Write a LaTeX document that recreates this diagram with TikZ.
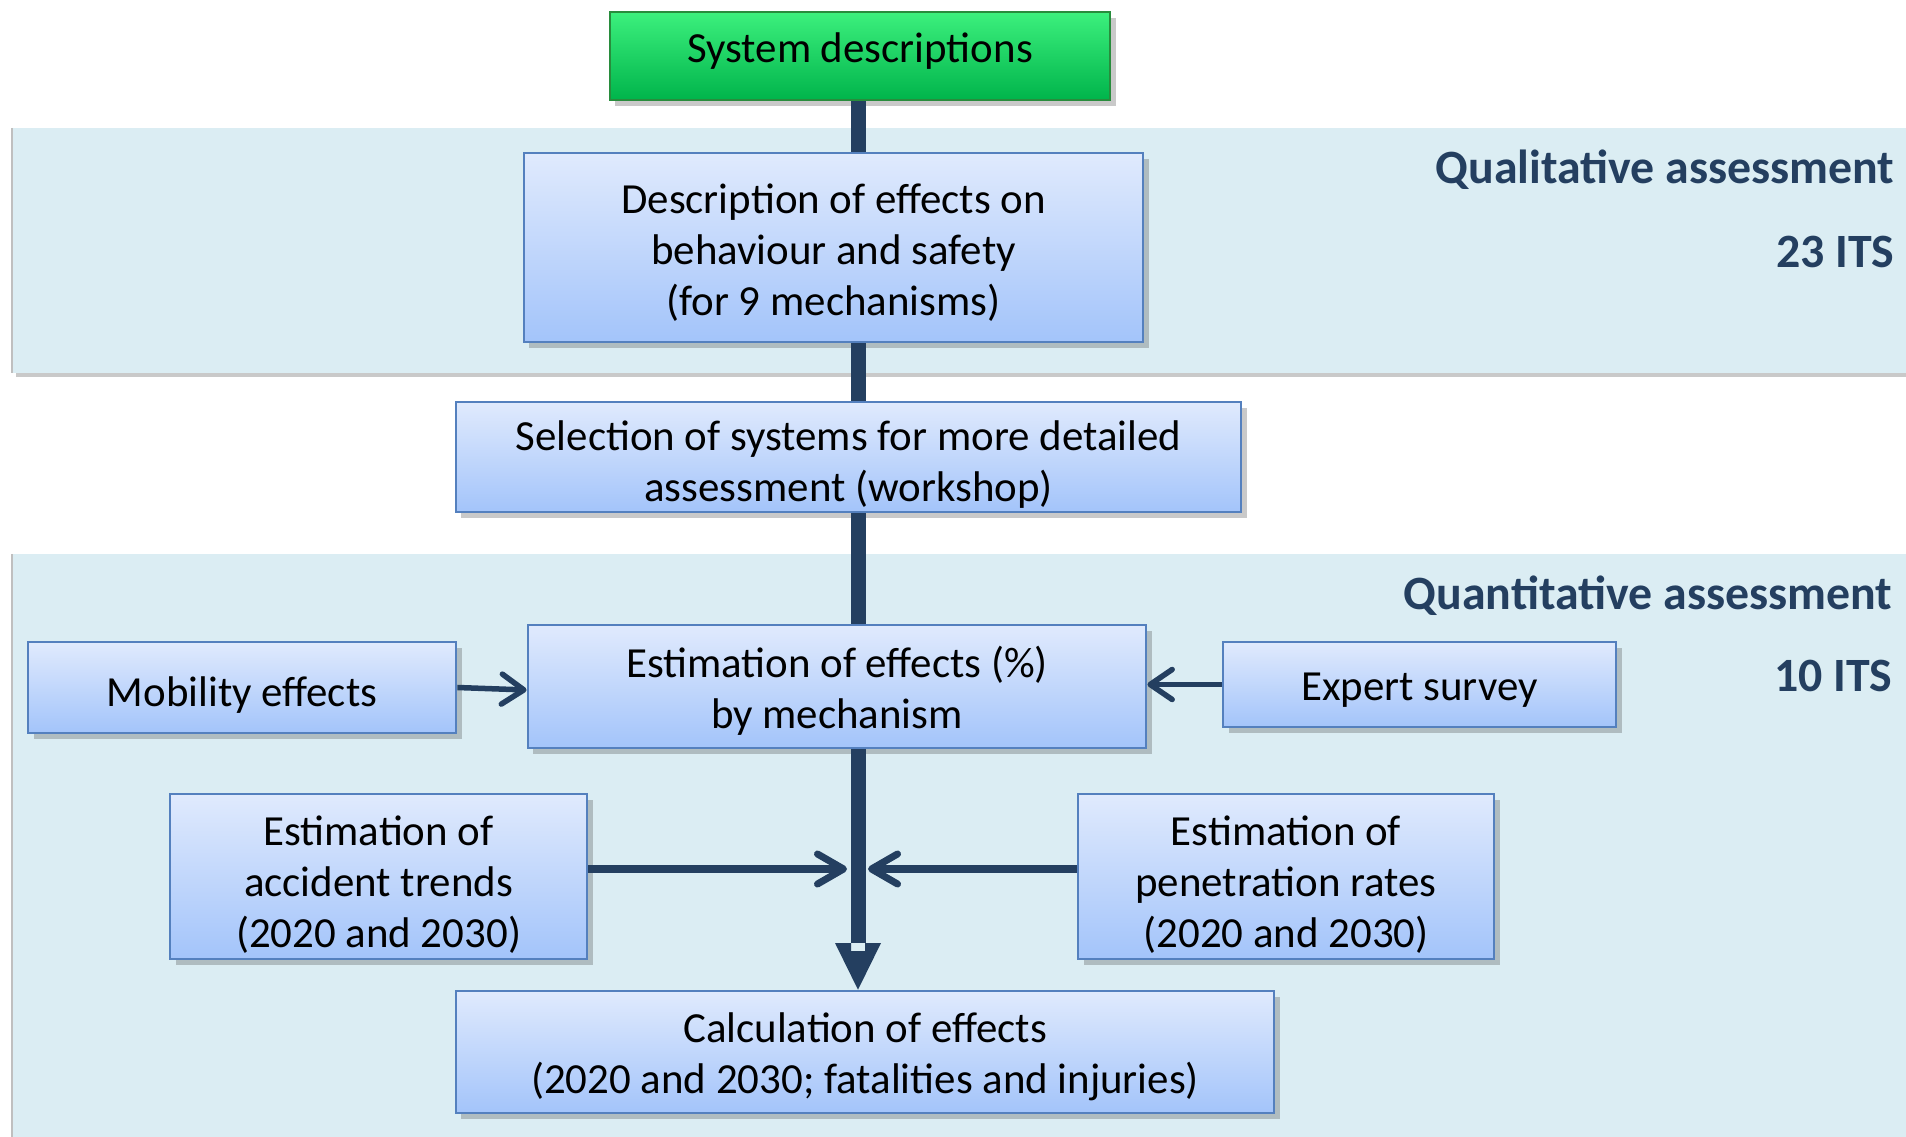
\documentclass[tikz,border=0pt]{standalone}
\usepackage{fontspec}
\setmainfont{Carlito}
\usetikzlibrary{arrows.meta,shadows}
\definecolor{navy}{RGB}{36,63,96}
\definecolor{band}{RGB}{219,237,243}
\definecolor{boxtop}{RGB}{224,234,253}
\definecolor{boxbot}{RGB}{163,196,250}
\definecolor{boxline}{RGB}{84,128,190}
\definecolor{gtop}{RGB}{60,240,125}
\definecolor{gbot}{RGB}{0,180,75}
\definecolor{gline}{RGB}{40,140,60}
\newcommand\lift[1]{\rule{0pt}{#1}}
\tikzset{
  bluebox/.style={draw=boxline, line width=0.7pt, top color=boxtop, bottom color=boxbot,
    inner sep=0pt, align=center, font=\fontsize{12.2}{14.5}\selectfont,
    drop shadow={shadow xshift=1.6pt, shadow yshift=-1.6pt, opacity=0.3, fill=black!70}},
  greenbox/.style={bluebox, draw=gline, top color=gtop, bottom color=gbot},
  textdown/.style={execute at begin node={\rule{0pt}{#1}}},
  textup/.style={execute at end node={\rule[-#1]{0pt}{0pt}}},
  bandbox/.style={fill=band, draw=none,
    drop shadow={shadow xshift=1.2pt, shadow yshift=-1.2pt, opacity=0.3, fill=black!70}},
  heading/.style={anchor=east, text=navy, font=\fontsize{13.6}{15}\selectfont\bfseries, inner sep=0pt},
  spineline/.style={draw=navy, line width=0.15cm},
  sidearrow/.style={draw=navy, line width=0.07cm, -{Straight Barb[length=0.26cm,width=0.30cm,round]}},
  smallarrow/.style={draw=navy, line width=0.055cm, -{Straight Barb[length=0.22cm,width=0.30cm,round]}},
}
\begin{document}
\begin{tikzpicture}[x=0.01cm,y=-0.01cm]
\useasboundingbox (0,0) rectangle (1906,1137);
% bands
\path[bandbox] (12,128) rectangle (1910,373);
\path[bandbox] (12,554) rectangle (1910,1141);
\draw[black!25, line width=0.6pt] (12,128) -- (12,373);
\draw[black!25, line width=0.6pt] (12,554) -- (12,1137);
% headings
\node[heading] (h1) at (1895,170) {Qualitative assessment};
\node[heading] (h2) at (1895,252) {23 ITS};
\node[heading] (h3) at (1893,596) {Quantitative assessment};
\node[heading] (h4) at (1893,676) {10 ITS};
% spine coordinate
\coordinate (spine) at (858,0);
% nodes
\node[greenbox, textup=4.6pt, minimum width=5.00cm, minimum height=0.88cm] (sys) at (860,56) {System descriptions};
\node[bluebox, minimum width=6.19cm, minimum height=1.89cm] (desc) at (833.5,247.5) {\lift{11.3pt}Description of effects on\\behaviour and safety\\(for 9 mechanisms)};
\node[bluebox, minimum width=7.85cm, minimum height=1.10cm] (sel) at (848.5,457) {\lift{12.7pt}Selection of systems for more detailed\\assessment (workshop)};
\node[bluebox, minimum width=6.18cm, minimum height=1.23cm] (est) at (837,686.5) {\lift{11.3pt}Estimation of effects (\%)\\by mechanism};
\node[bluebox, textdown=12.5pt, minimum width=4.28cm, minimum height=0.91cm] (mob) at (242,687.5) {Mobility effects};
\node[bluebox, textdown=11.2pt, minimum width=3.93cm, minimum height=0.85cm] (exp) at (1419.5,684.5) {Expert survey};
\node[bluebox, minimum width=4.17cm, minimum height=1.65cm] (acc) at (378.5,876.5) {\lift{13.3pt}Estimation of\\accident trends\\(2020 and 2030)};
\node[bluebox, minimum width=4.16cm, minimum height=1.65cm] (pen) at (1286,876.5) {\lift{13.3pt}Estimation of\\penetration rates\\(2020 and 2030)};
\node[bluebox, minimum width=8.18cm, minimum height=1.22cm] (calc) at (865,1052) {\lift{11.3pt}Calculation of effects\\(2020 and 2030; fatalities and injuries)};
% spine connectors
\draw[spineline] (sys.south -| spine) -- (desc.north -| spine);
\draw[spineline] (desc.south -| spine) -- (sel.north -| spine);
\draw[spineline] (sel.south -| spine) -- (est.north -| spine);
\coordinate (headbase) at (858,943);
\draw[spineline] (est.south -| spine) -- (headbase);
\fill[navy] (835,943) -- (851,943) -- (851,951) -- (865,951) -- (865,943) -- (881,943) -- (calc.north -| spine) -- cycle;
% junction arrows
\coordinate (jl) at (847,869);
\coordinate (jr) at (868,869);
\draw[sidearrow] (acc.east |- jl) -- (jl);
\draw[sidearrow] (pen.west |- jr) -- (jr);
% side inputs
\draw[smallarrow] (mob.east) -- (est.west |- 0,690);
\draw[smallarrow] (exp.west) -- (est.east |- exp.west);
\end{tikzpicture}
\end{document}
